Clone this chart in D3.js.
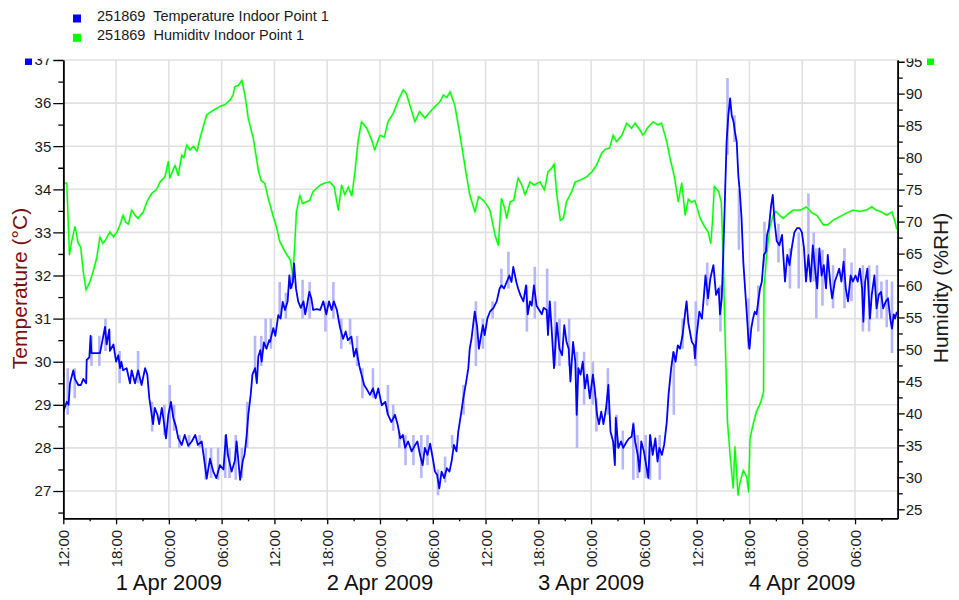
<!DOCTYPE html>
<html>
<head>
<meta charset="utf-8">
<script src="https://cdn.jsdelivr.net/npm/d3@7"></script>
<style>
  body { margin: 0; background: #fff; }
  svg { display: block; font-family: "Liberation Sans", Arial, sans-serif; }
</style>
</head>
<body>
<svg id="chart" width="959" height="600"></svg>
<script>
// ---- data -------------------------------------------------------------
const seriesStart = new Date(2009, 2, 31, 12, 0);   // first sample
const axisEnd = new Date(2009, 3, 4, 10, 51);       // end of time axis

const legendLabels = ["251869  Temperature Indoor Point 1", "251869  Humiditv Indoor Point 1"];
const seriesColors = ["#0000ff", "#00ff00"];
const leftTitle = "Temperature (°C)";
const rightTitle = "Humidity (%RH)";

const dayLabels = ["1 Apr 2009", "2 Apr 2009", "3 Apr 2009", "4 Apr 2009"];
const dayLabelDates = [new Date(2009, 3, 1), new Date(2009, 3, 2), new Date(2009, 3, 3), new Date(2009, 3, 4)];

const tempTicks = [27, 28, 29, 30, 31, 32, 33, 34, 35, 36, 37];
const humTicks = [25, 30, 35, 40, 45, 50, 55, 60, 65, 70, 75, 80, 85, 90, 95];

// temperature, hours after seriesStart / °C
const tempHours = [0,0.4,0.6,0.76,1.14,1.33,1.7,2.0,2.27,2.6,2.66,2.96,3.1,3.2,4.17,4.55,4.74,4.93,5.23,5.3,5.7,6.0,6.25,6.45,6.6,6.8,7.2,7.58,7.77,8.15,8.5,8.9,9.3,9.55,9.78,10.05,10.2,10.4,10.7,10.9,11.2,11.4,11.67,11.94,12.24,12.5,12.8,13.07,13.46,13.8,14.2,14.6,15.0,15.3,15.73,16.1,16.3,16.68,17.05,17.4,17.8,18.2,18.5,18.7,19.14,19.5,19.7,20.1,20.4,20.6,20.85,21.03,21.3,21.5,21.8,22.0,22.17,22.4,22.55,22.8,23.1,23.4,23.5,23.87,24.1,24.44,24.7,24.94,25.2,25.5,25.7,25.85,26.1,26.23,26.45,26.7,27.0,27.3,27.5,27.7,27.96,28.2,28.4,28.8,29.2,29.55,29.9,30.2,30.5,30.75,31.1,31.45,31.8,32.1,32.35,32.75,33.05,33.3,33.65,33.9,34.2,34.45,34.86,35.2,35.5,35.8,36.2,36.6,36.9,37.3,37.7,38.0,38.3,38.6,38.85,39.2,39.6,40.0,40.25,40.55,40.85,41.1,41.4,41.7,42.0,42.25,42.5,42.74,43.0,43.3,43.6,43.9,44.15,44.4,44.7,44.9,45.2,45.47,45.8,46.04,46.2,46.4,46.77,47.05,47.24,47.5,47.7,47.9,48.2,48.5,48.9,49.27,49.6,49.8,50.1,50.4,50.7,50.95,51.15,51.5,51.7,51.95,52.3,52.6,52.8,53.05,53.25,53.5,53.8,54.1,54.4,54.6,54.95,55.1,55.3,55.5,55.78,56.1,56.4,56.7,56.95,57.2,57.45,57.65,57.95,58.2,58.36,58.55,58.8,59.05,59.3,59.55,59.85,60.2,60.4,60.67,60.9,61.15,61.4,61.7,61.96,62.2,62.5,62.7,62.8,63.1,63.4,63.65,64.05,64.3,64.6,64.8,65.0,65.3,65.5,65.7,66.0,66.5,66.7,67.0,67.3,67.55,67.75,68.05,68.3,68.6,68.8,69.1,69.35,69.6,69.85,70.1,70.4,70.7,70.85,71.05,71.3,71.45,71.7,71.8,72.0,72.3,72.6,72.83,73.0,73.3,73.55,73.9,74.2,74.5,74.65,74.85,75.02,75.2,75.4,75.6,75.8,75.98,76.2,76.35,76.55,76.73,76.9,77.1,77.3,77.5,77.7,77.9,78.0,78.2,78.4,78.6,78.8,79.0,79.2,79.4,79.65,79.87,80.0,80.2,80.47,80.65,80.85,81.1,81.4,81.7,82.04,82.3,82.55,82.8,83.1,83.4,83.7,83.96,84.2,84.43,84.7,84.95,85.2,85.45,85.7,85.95,86.2,86.45,86.7,86.9,87.2,87.4,87.7,87.95,88.2,88.45,88.7,88.95,89.2,89.5,89.75,90.05,90.3,90.55,90.8,90.95,91.15,91.4,91.7,91.9,92.2,92.45,92.7,92.95,93.2,93.5,93.75,94.0,94.2,94.4,94.55,94.75];
const tempC = [28.84,29.07,29.0,29.5,29.8,29.6,29.46,29.46,29.6,29.5,30.04,30.1,30.6,30.2,30.2,30.6,30.81,30.4,30.75,30.25,30.4,30.0,30.15,29.85,30.0,29.8,29.85,29.5,29.8,29.5,29.8,29.46,29.85,29.7,29.15,28.77,28.55,28.93,28.77,28.55,28.93,28.65,28.22,28.77,29.07,28.7,28.5,28.22,28.07,28.3,28.05,28.15,28.3,28.07,28.15,27.6,27.29,27.75,27.45,27.3,27.6,27.5,28.3,27.84,27.45,27.7,28.15,27.26,27.7,27.84,28.3,28.77,29.23,29.7,29.85,29.5,30.12,30.27,30.0,30.45,30.3,30.5,30.46,30.78,30.6,31.08,31.0,31.39,31.2,31.4,32.0,31.7,31.85,32.28,31.7,31.4,31.25,31.4,31.1,31.3,31.62,31.47,31.2,31.22,31.2,31.4,31.1,31.4,31.2,31.4,31.2,30.8,30.53,30.7,30.5,30.58,30.12,30.3,29.9,29.7,29.46,29.38,29.23,29.38,29.15,29.38,28.99,29.07,28.77,28.6,28.77,28.55,28.22,28.3,28.0,28.15,27.92,28.07,28.15,27.84,27.6,28.0,27.84,28.1,27.76,27.45,27.37,27.06,27.45,27.3,27.53,27.45,27.7,28.07,27.92,28.38,28.77,29.15,29.54,29.85,30.3,30.53,31.16,30.8,30.3,30.62,30.85,30.62,31.0,31.16,31.25,31.4,31.7,31.77,31.7,31.85,32.0,31.85,32.2,31.85,31.7,31.55,31.4,31.77,31.1,31.4,31.3,31.77,31.3,31.2,31.1,31.25,31.2,30.62,31.4,30.8,29.85,30.9,30.3,30.15,30.85,30.46,30.3,29.54,30.46,30.0,28.77,29.85,29.7,30.0,29.38,29.7,29.15,29.7,29.38,28.77,28.55,28.84,28.55,28.92,29.46,28.38,28.15,27.6,28.7,28.0,28.15,28.0,28.15,28.22,28.26,28.55,28.15,27.84,27.45,28.15,27.92,27.3,28.3,27.84,28.22,27.68,28.0,27.84,28.07,28.6,29.23,29.85,30.23,30.0,30.38,30.3,30.62,31.16,31.4,30.9,30.62,30.46,30.38,30.08,30.62,31.16,31.0,31.55,32.0,31.47,31.93,32.24,31.55,31.7,31.1,31.47,32.48,33.71,35.1,35.72,36.11,35.72,35.56,35.33,35.1,34.33,33.95,33.33,32.32,31.7,31.1,30.46,30.3,30.77,31.0,31.16,31.1,31.4,31.7,31.85,32.48,32.55,32.94,33.1,33.64,33.87,33.25,32.8,32.7,32.94,31.86,32.48,32.24,32.63,33.0,33.1,33.1,33.0,32.63,31.86,32.48,31.86,32.7,32.16,31.7,32.63,32.0,32.24,31.7,32.48,31.78,31.47,31.86,32.0,32.16,31.86,32.32,31.7,31.4,32.0,31.86,32.0,31.86,32.16,31.7,30.93,31.86,32.16,31.0,31.55,32.0,31.24,31.55,31.62,31.24,31.4,31.47,31.0,30.77,31.1,31.0,31.16];

// short-term temperature extremes (min/max bars), hours after seriesStart / °C
const spikeHours = [0.5,1.3,3.2,4.1,4.8,6.4,8.5,10.1,11.5,12.1,12.6,13.2,14.3,15.5,16.2,16.8,17.6,18.4,18.9,19.6,20.3,20.9,21.8,22.5,23.0,23.6,24.6,25.3,26.0,27.2,28.0,29.8,30.7,31.6,32.6,33.4,34.0,35.2,36.9,37.5,38.2,38.9,39.8,40.7,41.4,42.6,43.4,44.2,45.5,46.9,47.7,48.8,49.8,50.6,52.7,53.6,55.0,55.9,56.4,57.5,58.4,59.2,60.2,60.6,61.9,62.9,63.6,64.8,65.3,66.2,66.7,67.8,69.4,70.4,71.9,73.2,74.7,75.5,76.3,76.8,77.9,79.0,79.7,81.3,82.6,83.6,84.7,85.3,85.6,86.3,87.5,88.8,89.6,90.9,91.6,92.5,93.0,93.6,94.2];
const spikeHigh = [29.85,29.85,30.6,30.6,31.0,30.25,30.25,29.07,29.0,29.46,29.0,28.3,28.3,28.3,28.0,28.0,28.0,28.3,28.0,28.3,28.0,29.07,30.6,30.6,31.0,31.0,31.85,31.6,32.3,31.9,31.85,31.4,31.85,31.0,31.0,30.6,29.85,29.85,29.46,29.0,28.38,28.3,28.3,28.3,28.3,27.5,27.8,28.3,29.46,31.4,31.0,31.4,32.16,32.55,31.77,32.2,32.16,31.4,31.0,31.0,30.23,30.23,30.0,29.15,29.85,28.77,28.4,28.6,28.3,28.3,28.3,28.3,30.23,31.0,31.4,32.3,31.77,36.58,35.72,34.0,31.47,31.77,33.25,33.2,32.63,33.0,33.9,33.0,32.63,32.6,32.24,32.63,32.3,32.24,32.24,32.24,31.86,31.9,31.86];
const spikeLow = [28.77,29.15,29.9,29.9,30.25,29.5,29.5,28.38,28.3,28.0,28.4,28.0,28.0,28.0,27.26,27.3,27.26,27.3,27.3,27.26,27.3,28.0,29.85,29.9,30.3,30.3,31.0,31.0,31.7,31.0,31.0,30.7,31.0,30.3,30.4,29.9,29.15,29.15,28.77,28.4,28.0,27.6,27.6,27.3,27.6,26.9,27.2,28.0,28.77,29.9,30.3,31.0,31.7,31.7,30.7,31.0,31.0,29.9,29.9,29.9,28.0,29.0,29.0,28.38,28.77,28.0,27.5,27.26,27.3,27.3,27.26,27.26,28.77,30.3,29.9,31.3,30.7,34.8,35.1,32.6,30.3,30.7,32.2,32.3,31.7,31.7,32.5,31.86,31.0,31.3,31.24,31.24,31.4,30.7,30.7,31.0,31.0,30.8,30.2];

// relative humidity, hours after seriesStart / %RH
const humHours = [0,0.4,0.7,0.95,1.33,1.7,1.98,2.27,2.58,3.03,3.4,3.8,4.17,4.48,4.75,5.3,5.7,6.07,6.45,6.8,7.1,7.4,7.77,8.15,8.5,9.1,9.5,10.05,10.6,11.0,11.56,11.94,12.1,12.7,13.07,13.46,13.7,14.03,14.4,14.8,15.2,15.5,15.9,16.3,17.05,17.8,18.4,18.95,19.3,19.5,19.9,20.3,20.65,21.03,21.6,22.2,22.5,22.9,23.3,23.87,24.26,24.6,25.2,25.8,26.1,26.3,26.5,26.9,27.2,27.5,28.0,28.4,28.8,29.2,29.7,30.3,30.8,31.26,31.64,32.0,32.4,32.8,33.16,33.5,33.9,34.5,35.05,35.4,36.0,36.5,36.9,37.5,38.1,38.65,39.0,39.4,39.97,40.5,41.1,41.6,42.25,42.8,43.2,43.6,43.96,44.5,45.1,45.7,46.2,46.8,47.2,47.5,47.9,48.5,49.07,49.45,49.8,50.2,50.4,50.8,51.2,51.7,52.1,52.5,53.05,53.5,54.2,54.7,55.1,55.5,55.8,56.1,56.5,56.85,57.2,57.8,58.2,58.8,59.5,60.1,60.6,61.2,61.6,62.1,62.5,62.9,63.5,64.05,64.6,65.0,65.55,65.9,66.5,67.05,67.6,68.0,68.6,68.97,69.5,69.9,70.3,70.7,71.05,71.4,71.8,72.4,72.9,73.3,73.6,73.8,74.0,74.5,74.8,75.0,75.3,75.5,75.8,76.15,76.35,76.7,76.9,77.3,77.7,77.9,78.06,78.4,78.8,79.3,79.6,79.65,79.96,80.3,80.7,81.0,81.4,81.85,82.4,83.0,83.8,84.5,85.0,85.7,86.4,86.9,87.5,88.3,89.0,89.8,90.5,91.3,91.9,92.4,93.0,93.6,94.2,94.55,94.75];
const humRH = [76.0,76.0,64.8,66.9,69.2,66.6,66.0,62.2,59.3,60.6,62.2,64.3,67.6,66.6,67.0,68.4,67.6,68.3,69.5,71.0,69.9,69.6,71.8,71.0,70.5,71.5,73.1,74.4,75.0,76.2,77.0,79.4,76.8,78.8,77.2,80.4,80.0,82.0,81.2,81.8,81.0,82.8,84.8,86.7,87.4,88.0,88.3,89.0,89.8,91.1,91.3,92.1,89.8,86.1,83.0,77.8,76.4,76.0,73.6,70.8,69.0,66.9,65.3,64.0,61.6,66.0,71.5,74.1,72.8,73.0,73.3,74.7,75.2,75.7,76.0,76.2,75.4,71.8,75.7,74.2,75.4,74.0,77.8,82.5,85.6,84.6,82.8,81.2,83.5,83.2,85.6,86.9,89.0,90.6,90.0,88.2,85.6,87.2,86.2,87.0,88.0,88.7,89.8,89.4,90.3,88.2,83.5,78.3,74.2,71.5,73.9,73.6,73.1,71.8,67.9,66.3,73.6,72.0,70.5,73.1,73.3,76.8,75.8,74.2,76.2,75.7,76.2,74.9,77.8,78.3,79.0,74.2,70.2,70.5,73.1,74.7,76.2,76.5,77.0,77.8,78.8,80.7,81.3,81.5,83.5,82.5,83.5,85.4,84.6,85.4,84.3,83.5,84.8,85.6,85.1,85.4,82.5,79.9,76.8,73.1,76.0,71.0,73.5,73.0,73.3,70.5,69.2,68.4,66.6,70.0,75.5,74.7,73.0,64.8,48.6,38.7,33.5,28.3,34.8,27.2,29.0,31.1,30.0,27.7,36.1,38.2,40.3,41.8,43.4,59.6,64.8,69.0,71.0,71.6,71.0,70.5,71.2,71.8,71.8,72.3,71.5,70.9,69.5,69.5,70.2,70.8,71.3,71.8,71.6,71.8,72.3,71.8,71.5,71.0,71.5,70.0,68.8];

// ---- layout -----------------------------------------------------------
const plot = { left: 63.3, right: 897.7, top: 60, bottom: 518.3 };
const atHour = h => new Date(seriesStart.getTime() + h * 3600e3);

const svg = d3.select("#chart");

const x = d3.scaleTime().domain([seriesStart, axisEnd]).range([plot.left, plot.right]);
const yT = d3.scaleLinear().domain([26.367, 37]).range([plot.bottom, plot.top]);
const yH = d3.scaleLinear().domain([23.59, 95.27]).range([plot.bottom, plot.top]);

const majorTimes = d3.timeHour.every(6).range(seriesStart, axisEnd);
const minorTimes = d3.timeHour.every(3).range(seriesStart, axisEnd)
  .filter(d => d.getHours() % 6 !== 0);
const tempMinor = d3.range(26.5, 37, 1);
const humMinor = d3.range(27.5, 95, 5);

svg.append("defs").append("clipPath").attr("id", "plotClip")
  .append("rect").attr("x", plot.left).attr("y", plot.top)
  .attr("width", plot.right - plot.left).attr("height", plot.bottom - plot.top);
svg.select("defs").append("clipPath").attr("id", "labelClip")
  .append("rect").attr("x", 0).attr("y", 58.5).attr("width", 959).attr("height", 560);

// grid
const grid = svg.append("g").attr("stroke", "#e1e1e1").attr("stroke-width", 1.6);
grid.selectAll("line.h").data(tempTicks).join("line")
  .attr("x1", plot.left).attr("x2", plot.right)
  .attr("y1", d => yT(d)).attr("y2", d => yT(d));
grid.selectAll("line.v").data(majorTimes).join("line")
  .attr("x1", d => x(d)).attr("x2", d => x(d))
  .attr("y1", plot.top).attr("y2", plot.bottom);

// series
const marks = svg.append("g").attr("clip-path", "url(#plotClip)");

marks.append("g").attr("stroke", "#b6b6ff").attr("stroke-width", 2.6)
  .selectAll("line").data(spikeHours).join("line")
  .attr("x1", d => x(atHour(d))).attr("x2", d => x(atHour(d)))
  .attr("y1", (d, i) => yT(spikeHigh[i])).attr("y2", (d, i) => yT(spikeLow[i]));

const humLine = d3.line().x((d, i) => x(atHour(humHours[i]))).y(d => yH(d));
marks.append("path").datum(humRH).attr("fill", "none")
  .attr("stroke", "#c4f8c4").attr("stroke-width", 2.6).attr("d", humLine);
marks.append("path").datum(humRH).attr("fill", "none")
  .attr("stroke", seriesColors[1]).attr("stroke-width", 1.3)
  .attr("stroke-linejoin", "round").attr("d", humLine);

const tempLine = d3.line().x((d, i) => x(atHour(tempHours[i]))).y(d => yT(d));
marks.append("path").datum(tempC).attr("fill", "none")
  .attr("stroke", seriesColors[0]).attr("stroke-width", 1.8)
  .attr("stroke-linejoin", "round").attr("d", tempLine);

// axes
function styleAxis(g) {
  g.select(".domain").attr("stroke", "#000").attr("stroke-width", 1.5);
  g.selectAll(".tick line").attr("stroke", "#000").attr("stroke-width", 1.3);
  g.selectAll(".tick text").attr("fill", "#1a1a1a").attr("font-size", 15)
    .attr("font-family", "Liberation Sans, Arial, sans-serif");
}

// left (temperature)
const leftG = svg.append("g").attr("clip-path", "url(#labelClip)");
leftG.append("g").attr("transform", `translate(${plot.left},0)`)
  .call(d3.axisLeft(yT).tickValues(tempMinor).tickSize(5).tickSizeOuter(0).tickFormat(""))
  .call(styleAxis);
leftG.append("g").attr("transform", `translate(${plot.left},0)`)
  .call(d3.axisLeft(yT).tickValues(tempTicks).tickSize(10).tickPadding(2).tickSizeOuter(0).tickFormat(d3.format("d")))
  .call(styleAxis);
leftG.append("rect").attr("x", 25).attr("y", 58).attr("width", 7).attr("height", 7).attr("fill", seriesColors[0]);

// right (humidity)
const rightG = svg.append("g").attr("clip-path", "url(#labelClip)");
rightG.append("g").attr("transform", `translate(${plot.right},0)`)
  .call(d3.axisRight(yH).tickValues(humMinor).tickSize(5).tickSizeOuter(0).tickFormat(""))
  .call(styleAxis);
rightG.append("g").attr("transform", `translate(${plot.right},0)`)
  .call(d3.axisRight(yH).tickValues(humTicks).tickSize(7).tickPadding(1).tickSizeOuter(0).tickFormat(d3.format("d")))
  .call(styleAxis);
rightG.append("rect").attr("x", 927).attr("y", 58).attr("width", 7).attr("height", 7).attr("fill", seriesColors[1]);

// bottom (time)
svg.append("g").attr("transform", `translate(0,${plot.bottom})`)
  .call(d3.axisBottom(x).tickValues(minorTimes).tickSize(3).tickSizeOuter(0).tickFormat(""))
  .call(styleAxis);
const bottomG = svg.append("g").attr("transform", `translate(0,${plot.bottom})`)
  .call(d3.axisBottom(x).tickValues(majorTimes).tickSize(6).tickSizeOuter(0).tickFormat(d3.timeFormat("%H:%M")))
  .call(styleAxis);
bottomG.selectAll(".tick text")
  .attr("text-anchor", "end").attr("dy", null).attr("y", 0)
  .attr("transform", "translate(5.5,11.5) rotate(-90)");

svg.append("g").selectAll("text").data(dayLabels).join("text")
  .attr("x", (d, i) => x(dayLabelDates[i])).attr("y", 590)
  .attr("text-anchor", "middle").attr("font-size", 22).attr("fill", "#111")
  .text(d => d);

// axis titles
svg.append("text").attr("transform", "translate(26.5,288.5) rotate(-90)")
  .attr("text-anchor", "middle").attr("font-size", 21).attr("fill", "#7a0f0f")
  .text(leftTitle);
svg.append("text").attr("transform", "translate(948,288) rotate(-90)")
  .attr("text-anchor", "middle").attr("font-size", 21).attr("fill", "#1a1a1a")
  .text(rightTitle);

// legend
const legend = svg.append("g");
legendLabels.forEach((label, i) => {
  legend.append("rect").attr("x", 73).attr("y", 14.5 + i * 19.3)
    .attr("width", 8).attr("height", 8).attr("fill", seriesColors[i]);
  legend.append("text").attr("x", 97).attr("y", 20.7 + i * 19.3)
    .attr("font-size", 14.5).attr("fill", "#1a1a1a").style("white-space", "pre")
    .text(label);
});
</script>
</body>
</html>
